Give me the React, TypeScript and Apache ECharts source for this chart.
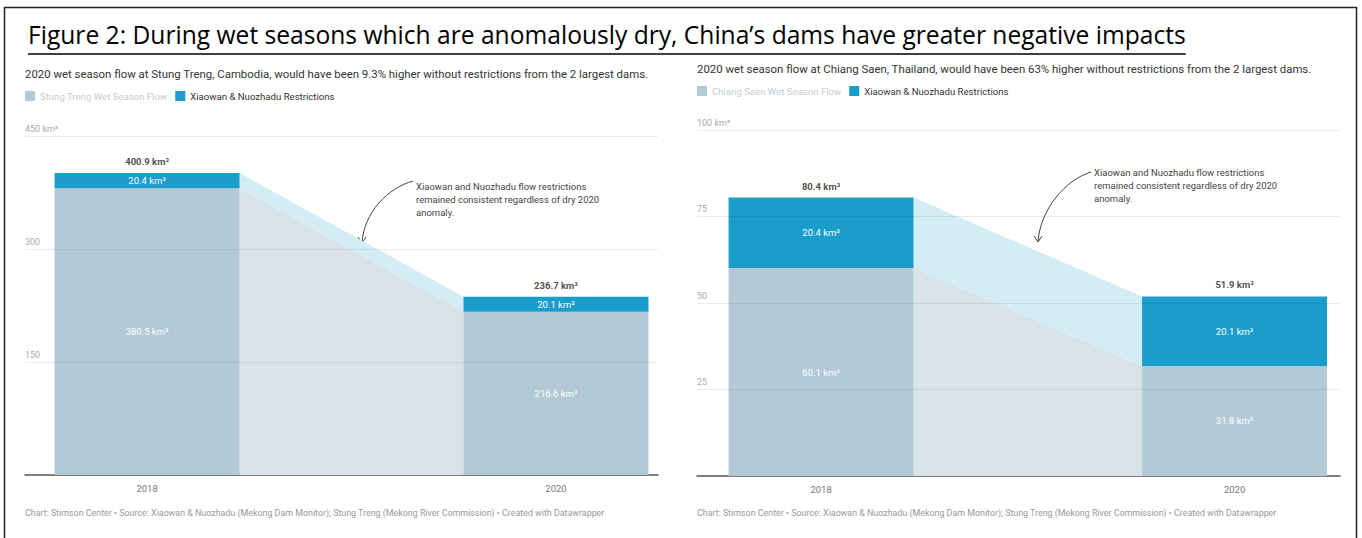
import React, { useEffect, useRef } from "react";
import * as echarts from "echarts";

// ---------- data ----------
const years = [2018, 2020];
const yearLabels = ["2018", "2020"];

const leftBase = [380.5, 216.6];
const leftRestr = [20.4, 20.1];
const leftTotal = [400.9, 236.7];
const leftTicks = [0, 150, 300, 450];

const rightBase = [60.1, 31.8];
const rightRestr = [20.4, 20.1];
const rightTotal = [80.4, 51.9];
const rightTicks = [0, 25, 50, 75, 100];

const unit = " km³";
const restrName = "Xiaowan & Nuozhadu Restrictions";
const leftBaseName = "Stung Treng Wet Season Flow";
const rightBaseName = "Chiang Saen Wet Season Flow";

const figureTitle =
  "Figure 2: During wet seasons which are anomalously dry, China’s dams have greater negative impacts";
const leftSubtitle =
  "2020 wet season flow at Stung Treng, Cambodia, would have been 9.3% higher without restrictions from the 2 largest dams.";
const rightSubtitle =
  "2020 wet season flow at Chiang Saen, Thailand, would have been 63% higher without restrictions from the 2 largest dams.";
const footnote =
  "Chart: Stimson Center • Source: Xiaowan & Nuozhadu (Mekong Dam Monitor); Stung Treng (Mekong River Commission) • Created with Datawrapper";
const annotationLines = [
  "Xiaowan and Nuozhadu flow restrictions",
  "remained consistent regardless of dry 2020",
  "anomaly.",
];

// ---------- styles ----------
const BAR_W = 185;
const C_BASE = "#b3cad6";
const C_RESTR = "#1a9dcb";
const C_CONN_BASE = "#d8e3e9";
const C_CONN_RESTR = "#d4ecf6";
const FONT = "Roboto";

function measure(text: string, font: string): number {
  const c = document.createElement("canvas").getContext("2d");
  if (!c) return text.length * 11;
  c.font = font;
  return c.measureText(text).width;
}

function barSeries(name: string, idx: number, color: string, lo: number[], hi: number[], vals: number[], z: number, extra: any = {}) {
  return {
    name,
    type: "custom",
    xAxisIndex: idx,
    yAxisIndex: idx,
    z,
    itemStyle: { color },
    encode: { x: 0, y: [1, 2] },
    data: years.map((y, i) => [y, lo[i], hi[i], vals[i]]),
    renderItem: (_p: any, api: any) => {
      const a = api.coord([api.value(0), api.value(1)]);
      const b = api.coord([api.value(0), api.value(2)]);
      return {
        type: "rect",
        shape: { x: a[0] - BAR_W / 2, y: b[1], width: BAR_W, height: a[1] - b[1] },
        style: { fill: color },
        textContent: {
          style: {
            text: Number(api.value(3)).toFixed(1) + unit,
            fill: "#ffffff",
            fontSize: 9.5,
            fontFamily: FONT,
          },
        },
        textConfig: { position: "inside" },
      };
    },
    ...extra,
  };
}

function panel(idx: number, base: number[], restr: number[], total: number[], ticks: number[], baseName: string) {
  const top = base.map((b, i) => b + restr[i]);
  const zeros = base.map(() => 0);
  const series: any[] = [
    {
      type: "custom",
      xAxisIndex: idx,
      yAxisIndex: idx,
      silent: true,
      z: 1,
      data: [0],
      renderItem: (_p: any, api: any) => {
        const h = BAR_W / 2;
        const a0 = api.coord([years[0], 0]);
        const a1 = api.coord([years[0], base[0]]);
        const a2 = api.coord([years[0], top[0]]);
        const b0 = api.coord([years[1], 0]);
        const b1 = api.coord([years[1], base[1]]);
        const b2 = api.coord([years[1], top[1]]);
        const x0 = a0[0] + h;
        const x1 = b0[0] - h;
        return {
          type: "group",
          children: [
            {
              type: "polygon",
              shape: { points: [[x0, a0[1]], [x0, a1[1]], [x1, b1[1]], [x1, b0[1]]] },
              style: { fill: C_CONN_BASE },
            },
            {
              type: "polygon",
              shape: { points: [[x0, a1[1]], [x0, a2[1]], [x1, b2[1]], [x1, b1[1]]] },
              style: { fill: C_CONN_RESTR },
            },
          ],
        };
      },
    },
    barSeries(baseName, idx, C_BASE, zeros, base, base, 2),
    barSeries(restrName, idx, C_RESTR, base, top, restr, 3, {
      markLine: {
        silent: true,
        symbol: ["none", "none"],
        label: { show: false },
        lineStyle: { color: "rgba(0,0,0,0.08)", width: 1, type: "solid" },
        data: ticks.filter((t) => t > 0).map((t) => ({ yAxis: t })),
      },
    }),
    {
      type: "scatter",
      xAxisIndex: idx,
      yAxisIndex: idx,
      symbolSize: 1,
      itemStyle: { color: "rgba(0,0,0,0)" },
      silent: true,
      label: {
        show: true,
        position: "top",
        distance: 6,
        color: "#222",
        fontWeight: "bold",
        fontSize: 9.5,
        fontFamily: FONT,
        formatter: (p: any) => p.value[1].toFixed(1) + unit,
      },
      data: years.map((y, i) => [y, total[i]]),
      z: 4,
    },
  ];
  return series;
}

function yAxis(idx: number, ticks: number[]) {
  const max = ticks[ticks.length - 1];
  return {
    type: "value",
    gridIndex: idx,
    min: 0,
    max,
    interval: ticks[1] - ticks[0],
    axisLine: { show: false },
    axisTick: { show: false },
    splitLine: { show: false },
    axisLabel: {
      inside: true,
      margin: 0,
      verticalAlign: "bottom",
      padding: [0, 0, 3, 0],
      color: "#aaaaaa",
      fontSize: 9,
      fontFamily: FONT,
      formatter: (v: number) => (v === 0 ? "" : v === max ? v + unit : String(v)),
    },
  };
}

function xAxis(idx: number, min: number, max: number) {
  return {
    type: "value",
    gridIndex: idx,
    min,
    max,
    axisLine: { show: true, lineStyle: { color: "#555", width: 1.5 } },
    axisTick: { show: false },
    splitLine: { show: false },
    axisLabel: {
      customValues: years,
      color: "#777",
      fontSize: 9.5,
      fontFamily: FONT,
      margin: 8,
      formatter: (v: number) => yearLabels[years.indexOf(v)] ?? "",
    },
  };
}

function annotation(x: number, y: number, arrow: { x1: number; y1: number; x2: number; y2: number; c1x: number; c1y: number; c2x: number; c2y: number }) {
  return [
    {
      type: "text",
      left: x,
      top: y,
      style: {
        text: annotationLines.join("\n"),
        fill: "#444",
        fontSize: 9.5,
        fontFamily: FONT,
        lineHeight: 13,
      },
    },
    {
      type: "bezierCurve",
      shape: {
        x1: arrow.x1,
        y1: arrow.y1,
        cpx1: arrow.c1x,
        cpy1: arrow.c1y,
        cpx2: arrow.c2x,
        cpy2: arrow.c2y,
        x2: arrow.x2,
        y2: arrow.y2,
      },
      style: { stroke: "#444", lineWidth: 1, fill: null },
    },
    {
      type: "polyline",
      shape: {
        points: [
          [arrow.x2 - 4, arrow.y2 - 6],
          [arrow.x2, arrow.y2],
          [arrow.x2 + 4, arrow.y2 - 6],
        ],
      },
      style: { stroke: "#444", lineWidth: 1, fill: null },
    },
  ];
}

export default function App() {
  const ref = useRef<HTMLDivElement>(null);
  useEffect(() => {
    if (!ref.current) return;
    const chart = echarts.init(ref.current, undefined, { renderer: "svg" });
    const titleFont = '24.6px "Open Sans"';
    const titleW = measure(figureTitle, titleFont);
    const subStyle = { fontSize: 11.4, fontWeight: "normal", color: "#333", fontFamily: FONT };
    const footStyle = { fontSize: 8.9, fontWeight: "normal", color: "#999", fontFamily: FONT };

    const option: any = {
      animation: false,
      backgroundColor: "#ffffff",
      title: [
        { text: leftSubtitle, left: 25, top: 68, padding: 0, textStyle: subStyle },
        { text: rightSubtitle, left: 697, top: 63, padding: 0, textStyle: subStyle },
        { text: footnote, left: 25, top: 508, padding: 0, textStyle: footStyle },
        { text: footnote, left: 697, top: 508, padding: 0, textStyle: footStyle },
      ],
      legend: [
        {
          left: 25,
          top: 91,
          padding: 0,
          icon: "rect",
          itemWidth: 10,
          itemHeight: 10,
          itemGap: 8,
          selectedMode: false,
          textStyle: { fontSize: 9.6, fontFamily: FONT, color: "#333" },
          data: [{ name: leftBaseName, textStyle: { color: "#c4ccd2" } }, { name: restrName }],
        },
        {
          left: 697,
          top: 86,
          padding: 0,
          icon: "rect",
          itemWidth: 10,
          itemHeight: 10,
          itemGap: 8,
          selectedMode: false,
          textStyle: { fontSize: 9.6, fontFamily: FONT, color: "#333" },
          data: [{ name: rightBaseName, textStyle: { color: "#c4ccd2" } }, { name: restrName }],
        },
      ],
      grid: [
        { left: 25, top: 136, width: 633, height: 339 },
        { left: 697, top: 130, width: 643, height: 346 },
      ],
      xAxis: [xAxis(0, 2017.403, 2020.499), xAxis(1, 2017.4, 2020.51)],
      yAxis: [yAxis(0, leftTicks), yAxis(1, rightTicks)],
      series: [
        ...panel(0, leftBase, leftRestr, leftTotal, leftTicks, leftBaseName),
        ...panel(1, rightBase, rightRestr, rightTotal, rightTicks, rightBaseName),
      ],
      graphic: [
        {
          type: "rect",
          shape: { x: 4.5, y: 7.5, width: 1352, height: 545 },
          style: { stroke: "#222", lineWidth: 1.5, fill: null },
          z: 100,
        },
        {
          type: "text",
          left: 28,
          top: 22,
          style: { text: figureTitle, fill: "#000", font: titleFont },
        },
        {
          type: "line",
          shape: { x1: 28, y1: 54, x2: 28 + titleW, y2: 54 },
          style: { stroke: "#000", lineWidth: 1.4 },
        },
        ...annotation(416, 180, { x1: 413, y1: 181, c1x: 388, c1y: 188, c2x: 364, c2y: 212, x2: 362, y2: 243 }),
        ...annotation(1094, 166, { x1: 1091, y1: 172, c1x: 1065, c1y: 180, c2x: 1040, c2y: 210, x2: 1038, y2: 242 }),
      ],
    };
    chart.setOption(option);
    return () => chart.dispose();
  }, []);
  return (
    <div
      ref={ref}
      style={{ position: "fixed", left: 0, top: 0, width: 1362, height: 538, background: "#fff" }}
    />
  );
}
